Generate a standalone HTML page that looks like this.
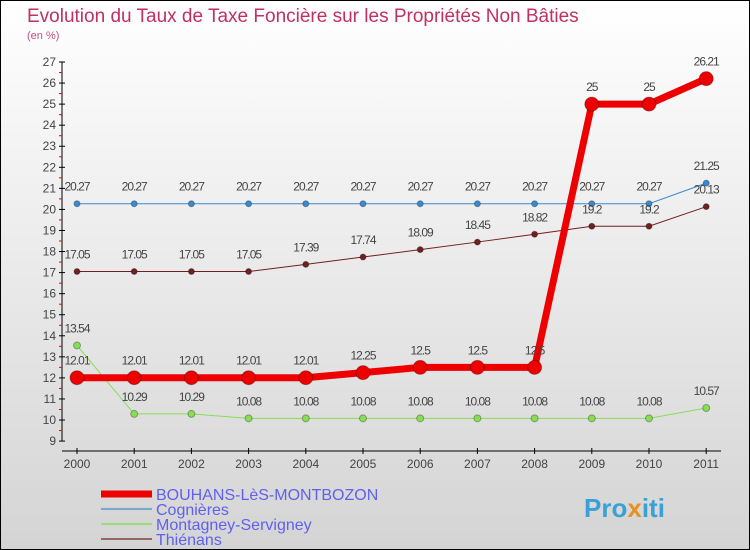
<!DOCTYPE html>
<html><head><meta charset="utf-8"><style>
body{margin:0}
#c{width:748px;height:548px;border:1px solid #000;background:linear-gradient(#fff,#d4d4d4);position:relative;font-family:"Liberation Sans",sans-serif;overflow:hidden}
</style></head><body>
<div id="c">
<svg id="s" width="748" height="548" style="position:absolute;left:0;top:0">
<text x="26" y="21" font-size="19" fill="#c03060">Evolution du Taux de Taxe Foncière sur les Propriétés Non Bâties</text>
<text x="26" y="38" font-size="11" fill="#c05080">(en %)</text>
<g id="ax"></g><g id="ser"></g>
<g>
<line x1="100" y1="493" x2="151" y2="493" stroke="#e00" stroke-width="7"/>
<text x="155" y="499" font-size="16" fill="#6060ee">BOUHANS-LèS-MONTBOZON</text>
<line x1="100" y1="508" x2="151" y2="508" stroke="#7aa8cc" stroke-width="2"/>
<text x="155" y="514" font-size="16" fill="#6060ee">Cognières</text>
<line x1="100" y1="523" x2="151" y2="523" stroke="#99dd77" stroke-width="2"/>
<text x="155" y="529" font-size="16" fill="#6060ee">Montagney-Servigney</text>
<line x1="100" y1="538" x2="151" y2="538" stroke="#996666" stroke-width="2"/>
<text x="155" y="544" font-size="16" fill="#6060ee">Thiénans</text>
</g>
<text x="583" y="516" font-size="26" font-weight="bold" fill="#3aa0d8">Pro<tspan fill="#e89020">x</tspan>iti</text>
</svg>
</div>
<script>
const years=[2000,2001,2002,2003,2004,2005,2006,2007,2008,2009,2010,2011];
const yTicks=[9,10,11,12,13,14,15,16,17,18,19,20,21,22,23,24,25,26,27];
const bouhans=[12.01,12.01,12.01,12.01,12.01,12.25,12.5,12.5,12.5,25,25,26.21];
const cognieres=[20.27,20.27,20.27,20.27,20.27,20.27,20.27,20.27,20.27,20.27,20.27,21.25];
const montagney=[13.54,10.29,10.29,10.08,10.08,10.08,10.08,10.08,10.08,10.08,10.08,10.57];
const thienans=[17.05,17.05,17.05,17.05,17.39,17.74,18.09,18.45,18.82,19.2,19.2,20.13];
const NS="http://www.w3.org/2000/svg";
const xs=i=>76+i*57.2, ys=v=>61+(27-v)*21.06;
function mk(p,t,a){const e=document.createElementNS(NS,t);for(const k in a)e.setAttribute(k,a[k]);p.appendChild(e);return e;}
const ax=document.getElementById('ax'),ser=document.getElementById('ser');
mk(ax,'line',{x1:61,y1:61,x2:61,y2:440,stroke:'#000'});
mk(ax,'line',{x1:61,y1:450,x2:720,y2:450,stroke:'#000'});
yTicks.forEach(v=>{
 mk(ax,'line',{x1:58,y1:ys(v),x2:64,y2:ys(v),stroke:'#000'});
 if(v<27)mk(ax,'line',{x1:58,y1:ys(v+0.5),x2:61,y2:ys(v+0.5),stroke:'#e00'});
 const t=mk(ax,'text',{x:55,y:ys(v)+4,'font-size':12,fill:'#444','text-anchor':'end'});t.textContent=v;
 
 
});
years.forEach((y,i)=>{
 mk(ax,'line',{x1:xs(i),y1:447,x2:xs(i),y2:453,stroke:'#000'});
 const t=mk(ax,'text',{x:xs(i),y:467,'font-size':12,fill:'#444','text-anchor':'middle'});t.textContent=y;
 
 
});
function series(d,col,w,r,name){
 const g=mk(ser,'g',{});
 
 
 mk(g,'polyline',{points:d.map((v,i)=>xs(i)+','+ys(v)).join(' '),fill:'none',stroke:col,'stroke-width':w});
 d.forEach((v,i)=>{
  const c=mk(g,'circle',{cx:xs(i),cy:ys(v),r:r,fill:col,stroke:'rgba(0,0,0,0.3)'});
  
  
  const t=mk(g,'text',{x:xs(i),y:ys(v)-13,'font-size':12,fill:'#444','text-anchor':'middle','letter-spacing':'-1'});
  t.textContent=String(v);
  
  
 });
}
series(cognieres,'#3a8ad0',1,3,'cognieres-series');
series(thienans,'#702020',1,3,'thienans-series');
series(montagney,'#88dd55',1,3.5,'montagney-series');
series(bouhans,'#ee0000',7,7,'bouhans-series');
</script>
</body></html>
